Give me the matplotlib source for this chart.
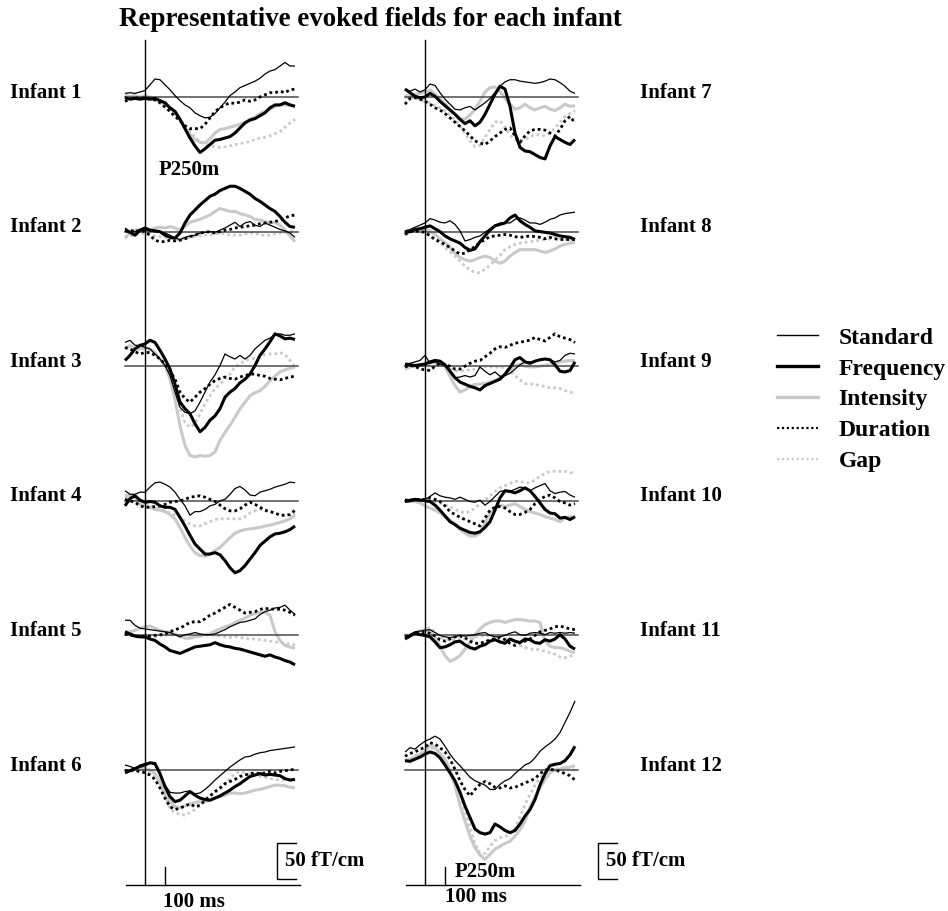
import numpy as np
import matplotlib
matplotlib.use("Agg")
import matplotlib.pyplot as plt
from matplotlib.transforms import blended_transform_factory
from matplotlib.lines import Line2D

plt.rcParams['font.family'] = ['Liberation Serif', 'DejaVu Serif']
plt.rcParams['font.weight'] = 'bold'

# ---------------- data (fT/cm, positive = up as drawn) ----------------
time_ms = np.arange(-100, 751, 25)
infants = [f"Infant {i}" for i in range(1, 13)]
conditions = ["Standard", "Frequency", "Intensity", "Duration", "Gap"]

standard = [
    [5,6,5,7,9,17,25,24,17,10,2,-5,-11,-15,-22,-26,-29,-28,-23,-15,-7,2,7,13,16,19,22,26,32,36,38,43,48,43,43],
    [5,0,0,2,3,1,0,-1,-2,-5,-9,-11,-8,-6,-5,-2,-1,0,-1,2,5,9,13,7,12,14,9,7,12,9,6,3,1,-2,-8],
    [33,36,29,29,26,24,17,10,1,-13,-36,-57,-64,-66,-62,-50,-36,-22,-12,1,17,13,10,15,10,15,24,30,36,39,44,45,43,43,45],
    [14,9,9,12,12,19,25,26,23,19,12,2,-7,-20,-15,-15,-12,-7,-5,0,2,9,17,20,15,8,7,12,14,16,19,21,23,26,25],
    [21,21,14,10,9,8,7,6,5,4,1,-2,1,2,4,2,1,1,2,5,8,12,15,18,19,21,23,29,33,35,38,39,42,35,29],
    [7,5,2,7,9,10,7,-7,-21,-31,-32,-32,-30,-29,-33,-32,-27,-21,-14,-8,-2,4,9,14,18,19,22,24,25,27,28,29,30,31,32],
    [11,8,11,7,10,18,16,6,-3,-10,-17,-18,-15,-13,-18,-13,-8,-2,6,15,21,24,24,22,21,20,19,20,22,25,24,20,15,8,5],
    [1,3,6,9,12,18,16,13,12,15,10,1,-13,-11,-8,-6,-1,4,9,12,12,12,17,19,16,12,12,10,13,17,19,23,25,26,27],
    [3,4,6,8,15,4,6,3,1,-7,-16,-15,-13,-15,-13,-1,-7,-12,-8,-14,-13,-10,-4,2,6,6,7,9,10,9,6,8,15,18,17],
    [1,2,2,1,2,6,11,7,5,4,2,5,2,-1,-2,1,-6,-1,6,13,14,13,16,19,18,14,18,21,24,14,10,12,13,8,5],
    [-3,1,5,6,7,8,4,0,-2,-3,-2,0,-1,0,1,3,4,0,-2,-2,0,3,5,1,0,3,4,3,1,4,3,4,3,4,3],
    [25,31,29,35,40,43,47,43,33,22,13,6,-2,-10,-15,-18,-21,-27,-27,-20,-15,-12,-5,1,7,10,17,26,32,37,43,52,66,80,96],
]

frequency = [
    [-1,-3,-2,-3,-2,-3,-2,-5,-8,-15,-20,-31,-44,-57,-68,-77,-72,-66,-60,-59,-57,-55,-50,-43,-36,-32,-30,-26,-22,-15,-11,-11,-8,-11,-13],
    [2,-1,-5,2,5,2,1,0,-5,-8,-9,-2,12,23,30,37,43,49,52,57,60,63,63,60,56,52,46,42,37,32,28,21,13,7,6],
    [8,15,24,29,31,36,33,22,10,-4,-25,-50,-59,-66,-80,-91,-85,-75,-69,-59,-43,-36,-31,-23,-18,-11,1,15,24,34,45,42,38,39,37],
    [-7,3,7,1,-2,-1,-2,-7,-9,-9,-12,-23,-35,-48,-60,-67,-74,-74,-72,-75,-83,-93,-100,-97,-90,-81,-72,-62,-56,-50,-46,-45,-43,-40,-35],
    [5,2,-1,-2,-2,-5,-7,-12,-16,-21,-23,-25,-22,-19,-16,-15,-14,-13,-10,-13,-15,-16,-18,-19,-21,-23,-25,-27,-29,-27,-30,-32,-35,-37,-41],
    [-4,-1,2,5,7,10,9,-5,-23,-37,-44,-42,-36,-30,-35,-39,-41,-42,-39,-36,-32,-28,-23,-19,-14,-9,-7,-5,-7,-6,-7,-8,-12,-14,-13],
    [11,6,1,-1,0,5,1,-6,-12,-18,-24,-31,-37,-33,-40,-35,-24,-10,4,15,11,-13,-50,-70,-75,-76,-80,-84,-86,-68,-55,-59,-63,-66,-59],
    [-1,0,3,4,6,8,4,0,-6,-10,-13,-16,-22,-26,-24,-14,-6,2,8,10,12,19,23,15,10,6,1,0,-1,-2,-4,-6,-7,-8,-11],
    [3,2,1,2,3,6,8,7,2,-7,-16,-22,-25,-28,-30,-33,-27,-24,-21,-18,-11,-2,9,12,6,4,7,9,10,9,2,-7,-8,-6,6],
    [-1,0,2,1,0,-1,-6,-13,-21,-29,-33,-38,-41,-44,-45,-43,-37,-29,-13,4,14,13,11,14,18,14,6,-3,-12,-17,-18,-24,-23,-26,-22],
    [-5,-1,3,1,0,-2,-9,-17,-16,-13,-9,-8,-13,-17,-19,-15,-13,-8,-6,-9,-11,-5,-8,-10,-5,-6,-10,-11,-6,-8,-5,1,-5,-15,-19],
    [13,12,15,18,22,25,23,17,7,-4,-15,-31,-50,-66,-82,-87,-89,-87,-75,-79,-84,-87,-84,-75,-64,-55,-41,-21,-5,6,8,9,13,21,33],
]

intensity = [
    [2,1,2,0,2,0,-3,-6,-11,-15,-22,-31,-43,-52,-59,-63,-64,-58,-50,-45,-44,-42,-40,-38,-35,-31,-28,-23,-20,-17,-13,-11,-11,-11,-12],
    [-8,-2,2,2,3,2,5,6,5,7,5,2,7,13,15,17,20,23,28,32,30,28,28,25,23,21,17,16,14,12,13,9,2,-6,-14],
    [24,29,24,24,26,24,19,10,1,-18,-46,-83,-110,-124,-126,-124,-125,-124,-119,-103,-92,-82,-71,-59,-50,-41,-37,-34,-28,-20,-14,-8,-5,-3,-1],
    [5,8,5,-5,-7,-9,-12,-13,-15,-19,-25,-37,-51,-63,-72,-76,-77,-74,-69,-65,-58,-51,-45,-42,-40,-39,-38,-37,-35,-34,-32,-30,-28,-25,-20],
    [5,5,7,10,12,13,10,7,5,4,2,-1,-4,-4,-2,-1,1,2,6,9,12,14,18,21,24,28,30,32,32,28,5,-7,-14,-16,-18],
    [-2,-1,1,2,2,0,-5,-16,-32,-44,-51,-52,-50,-47,-45,-44,-44,-42,-39,-37,-35,-32,-32,-33,-32,-30,-28,-27,-25,-23,-21,-21,-22,-24,-25],
    [1,2,4,5,7,10,4,-3,-10,-17,-24,-30,-31,-25,-17,-6,7,13,14,8,-2,-10,-17,-15,-10,-15,-18,-15,-13,-17,-19,-15,-10,-13,-12],
    [-4,0,2,3,3,1,-4,-10,-15,-22,-30,-36,-39,-41,-39,-36,-34,-36,-41,-44,-41,-34,-29,-25,-25,-25,-25,-27,-29,-27,-24,-20,-18,-16,-15],
    [-4,-1,0,1,2,4,7,6,-1,-14,-27,-36,-33,-28,-25,-25,-24,-22,-20,-16,-12,-5,1,2,0,-1,-1,0,1,2,3,6,7,8,8],
    [-1,0,-1,-3,-7,-10,-13,-17,-22,-27,-33,-40,-45,-49,-49,-45,-31,-17,-9,-6,-8,-6,-4,-8,-12,-15,-17,-19,-22,-24,-26,-29,-24,-22,-24],
    [-1,0,3,6,8,5,-2,-15,-28,-36,-33,-28,-19,-10,1,9,15,18,20,20,18,20,22,22,21,20,20,18,-8,-15,-17,-17,-19,-22,-24],
    [13,15,18,22,25,35,31,23,15,0,-22,-49,-71,-92,-108,-118,-124,-117,-110,-106,-102,-99,-92,-83,-71,-52,-38,-25,-13,-4,0,1,3,4,6],
]

duration = [
    [-6,-3,-1,-2,-1,-2,-4,-8,-14,-20,-27,-33,-40,-44,-44,-44,-38,-29,-20,-15,-11,-8,-9,-7,-4,-6,-4,0,3,6,6,8,6,10,11],
    [1,2,0,2,0,-5,-12,-14,-14,-12,-13,-12,-10,-7,-5,-2,-1,0,-2,0,2,3,5,6,7,8,9,11,12,13,14,16,19,22,23],
    [26,24,20,17,19,19,15,10,3,-6,-18,-36,-45,-50,-43,-36,-31,-25,-20,-17,-15,-17,-18,-15,-13,-11,-11,-13,-14,-17,-18,-19,-17,-15,-14],
    [2,0,-2,-7,-9,-9,-8,-7,-5,-2,-1,0,2,5,6,7,5,2,-1,-6,-11,-14,-14,-11,-6,-2,-5,-9,-13,-15,-17,-20,-20,-19,-13],
    [2,0,-1,-2,-2,-1,0,1,2,5,8,10,14,18,19,19,23,28,31,35,39,43,39,35,31,32,33,36,38,36,37,36,35,32,28],
    [-1,0,-1,-2,-4,-7,-13,-25,-39,-51,-55,-53,-50,-47,-51,-49,-42,-36,-30,-25,-19,-16,-13,-9,-7,-5,-4,-5,-4,-2,-4,-2,-1,0,1],
    [-10,-2,-1,-3,-6,-10,-15,-18,-23,-29,-35,-41,-47,-54,-61,-64,-66,-61,-55,-50,-45,-43,-54,-63,-54,-47,-45,-45,-46,-50,-54,-45,-33,-27,-36],
    [-4,0,1,0,-1,-6,-11,-14,-18,-22,-27,-31,-30,-25,-21,-15,-11,-7,-6,-5,-4,-5,-7,-8,-7,-6,-7,-8,-10,-8,-10,-11,-11,-11,-11],
    [-1,1,0,-4,-5,-6,0,4,2,0,-4,-4,0,4,7,8,13,18,24,27,26,29,32,33,35,36,40,37,35,40,45,41,39,37,33],
    [1,1,2,2,2,4,2,-1,-7,-15,-19,-23,-26,-29,-32,-35,-24,-13,-9,-8,-10,-15,-19,-19,-16,-12,-4,2,6,8,4,-1,-3,-6,-4],
    [-2,0,3,4,4,3,-1,-6,-8,-5,-2,-1,-3,-8,-11,-11,-9,-6,-5,-3,-6,-11,-14,-10,-8,-5,0,5,7,9,12,13,11,9,8],
    [19,23,25,29,31,38,36,31,25,15,1,-15,-27,-36,-27,-20,-16,-19,-24,-25,-22,-25,-24,-21,-18,-15,-12,-5,0,1,0,-2,-5,-8,-14],
]

gap = [
    [0,-1,0,-1,-1,-3,-5,-8,-13,-19,-25,-31,-40,-48,-56,-62,-65,-68,-69,-70,-69,-68,-66,-65,-63,-62,-59,-57,-56,-54,-51,-48,-42,-36,-31],
    [-9,-6,-5,-2,-3,-5,-6,-7,-8,-9,-11,-12,-9,-8,-7,-6,-5,-5,-3,-2,-3,-5,-5,-5,-3,-2,-2,-5,-5,-5,-3,-2,-1,0,0],
    [24,25,24,26,24,22,17,10,1,-15,-36,-59,-78,-85,-80,-66,-52,-41,-31,-25,-18,-11,-1,3,8,10,11,14,16,17,17,19,16,8,-1],
    [7,8,6,0,-5,-7,-9,-12,-14,-17,-20,-23,-28,-32,-35,-35,-32,-29,-26,-25,-25,-25,-25,-25,-22,-17,-14,-12,-14,-15,-17,-20,-20,-20,-17],
    [2,1,0,-1,-1,-2,-2,-1,0,1,0,-1,-2,-3,-2,-1,0,1,0,-1,-2,-3,-2,-3,-4,-5,-5,-6,-7,-8,-9,-10,-11,-12,-13],
    [-2,-2,-1,-2,-2,-4,-7,-19,-37,-53,-60,-61,-63,-59,-55,-49,-43,-37,-32,-27,-19,-12,-5,-2,-4,-6,-7,-9,-10,-12,-13,-14,-14,-13,-14],
    [0,-1,-2,-3,-6,-8,-12,-15,-19,-25,-32,-40,-50,-61,-69,-67,-56,-45,-35,-33,-42,-53,-59,-61,-59,-55,-52,-53,-54,-50,-43,-35,-27,-23,-19],
    [-1,0,0,1,1,-4,-11,-16,-22,-28,-34,-41,-48,-53,-57,-57,-52,-47,-39,-33,-25,-21,-18,-16,-15,-14,-13,-12,-11,-10,-8,-10,-11,-12,-13],
    [-1,0,0,1,0,1,3,4,1,-4,-6,-7,-6,-5,-4,-2,-1,-1,-2,0,-4,-6,-13,-19,-24,-25,-25,-27,-28,-30,-30,-31,-34,-36,-38],
    [-1,-1,0,1,1,0,-1,-3,-6,-8,-12,-15,-17,-15,-10,-4,1,7,13,18,21,24,27,27,25,25,29,34,38,41,41,41,41,39,39],
    [0,1,4,6,8,11,4,-2,-5,-6,-6,-6,-5,-3,-2,-1,0,-1,-2,-3,-5,-6,-9,-14,-17,-19,-19,-20,-22,-24,-26,-30,-31,-29,-26],
    [12,15,19,24,26,30,30,24,15,-1,-20,-34,-57,-80,-103,-115,-116,-106,-98,-94,-92,-89,-81,-65,-48,-34,-21,-11,-5,-1,1,3,3,3,-1],
]

# ---------------- layout (pixels of a 948 x 911 canvas) ----------------
W, H, DPI = 948, 911, 100
PX_PER_MS = 0.2          # 100 ms = 20 px
PX_PER_FT = 0.72         # 50 fT/cm = 36 px
ZERO_X = [145, 425]      # stimulus onset per column
FIRST_BASE = 97          # baseline of first row (px from top)
PITCH = 134.6            # px between rows
GRAY = '#c9c9c9'

def ydata(px):
    return (FIRST_BASE - px) / PX_PER_FT

fig = plt.figure(figsize=(W / DPI, H / DPI), dpi=DPI)
fig.patch.set_facecolor('white')
col_px = [(0, 380), (380, W)]
axes = []
for c in range(2):
    x0, x1 = col_px[c]
    ax = fig.add_axes([x0 / W, 0, (x1 - x0) / W, 1])
    ax.set_xlim((x0 - ZERO_X[c]) / PX_PER_MS, (x1 - ZERO_X[c]) / PX_PER_MS)
    ax.set_ylim(ydata(H), ydata(0))
    ax.axis('off')
    axes.append(ax)

styles = {
    "Gap":       dict(color=GRAY, lw=2.0, ls=(0, (1, 1.1)), zorder=2),
    "Intensity": dict(color=GRAY, lw=2.2, ls='-', zorder=3),
    "Duration":  dict(color='black', lw=2.0, ls=(0, (1, 1.1)), zorder=5),
    "Standard":  dict(color='black', lw=0.9, ls='-', zorder=6),
    "Frequency": dict(color='black', lw=2.2, ls='-', zorder=7),
}
series = {"Standard": standard, "Frequency": frequency, "Intensity": intensity,
          "Duration": duration, "Gap": gap}
draw_order = ["Gap", "Intensity", "Duration", "Standard", "Frequency"]

spacing = PITCH / PX_PER_FT
for i, name in enumerate(infants):
    c, k = divmod(i, 6)
    ax = axes[c]
    off = -k * spacing
    ax.plot([-100, 765], [off, off], color='#4a4a4a', lw=1.1, zorder=4)
    for cond in draw_order:
        ax.plot(time_ms, np.array(series[cond][i]) + off, solid_capstyle='butt',
                **styles[cond])
    tr = blended_transform_factory(fig.transFigure, ax.transData)
    lx = 10 / W if c == 0 else 640 / W
    ax.text(lx, off + 6.0, name, transform=tr, ha='left', va='center',
            fontsize=15, fontweight='bold')

# time axes, onset lines, scale bars
y_axis = ydata(885)
for c, ax in enumerate(axes):
    ax.plot([0, 0], [ydata(40), y_axis], color='black', lw=1.0, zorder=8)
    ax.plot([-95, 775], [y_axis, y_axis], color='black', lw=1.0)
    ax.plot([100, 100], [y_axis, ydata(867)], color='black', lw=1.0)
    sb_left = 660 if c == 0 else 865
    top = ydata(843)
    ax.plot([sb_left + 95, sb_left, sb_left, sb_left + 95], [top, top, top - 50, top - 50],
            color='black', lw=1.0)
    ax.text(sb_left + 40, ydata(861), "50 fT/cm", ha='left', va='center',
            fontsize=15, fontweight='bold')

axes[0].text(90, ydata(902), "100 ms", ha='left', va='center', fontsize=15, fontweight='bold')
axes[1].text(100, ydata(897), "100 ms", ha='left', va='center', fontsize=15, fontweight='bold')
axes[0].text(70, ydata(170), "P250m", ha='left', va='center', fontsize=15, fontweight='bold')
axes[1].text(150, ydata(872), "P250m", ha='left', va='center', fontsize=15, fontweight='bold')

fig.text(370 / W, 1 - 20 / H, "Representative evoked fields for each infant",
         ha='center', va='center', fontsize=19.4, fontweight='bold')

# legend
leg_styles = {
    "Standard":  dict(color='black', lw=1.0, ls='-'),
    "Frequency": dict(color='black', lw=2.4, ls='-'),
    "Intensity": dict(color=GRAY, lw=2.4, ls='-'),
    "Duration":  dict(color='black', lw=1.6, ls=(0, (1, 1.2))),
    "Gap":       dict(color=GRAY, lw=1.6, ls=(0, (1, 1.2))),
}
handles = [Line2D([], [], **leg_styles[c]) for c in conditions]
fig.legend(handles, conditions, loc='upper left',
           bbox_to_anchor=(777 / W, 1 - 327 / H), frameon=False,
           prop=dict(family='Liberation Serif', weight='bold', size=17),
           handlelength=1.75, handletextpad=0.85, labelspacing=0.40,
           borderpad=0, borderaxespad=0)

fig.savefig("out.png", dpi=DPI, facecolor='white')
